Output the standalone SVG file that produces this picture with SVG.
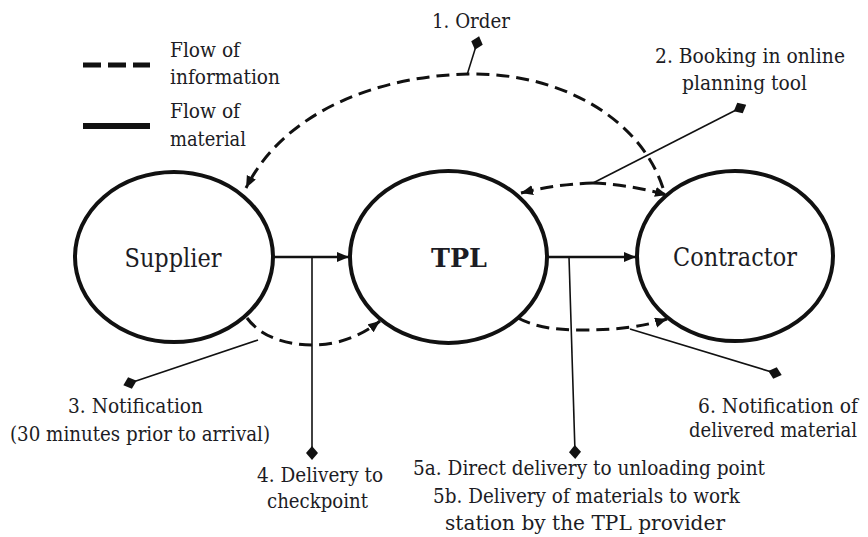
<svg xmlns="http://www.w3.org/2000/svg" width="868" height="537" viewBox="0 0 868 537">
<style>
text{font-family:'DejaVu Serif','Liberation Serif',serif;fill:#1c1c24;font-size:21px}
.node text{font-size:26px}
.node ellipse{fill:#fff;stroke:#111;stroke-width:4}
.solid{stroke:#111;stroke-width:2.6;fill:none}
.dash{stroke:#111;stroke-width:3;fill:none;stroke-dasharray:13 7}
.call{stroke:#111;stroke-width:1.6;fill:none}
</style>
<defs>
<marker id="arr" markerUnits="userSpaceOnUse" markerWidth="14" markerHeight="12" refX="12" refY="5" orient="auto">
<path d="M0,0 L12,5 L0,10 z" fill="#111"/>
</marker>
<marker id="dia" markerUnits="userSpaceOnUse" markerWidth="14" markerHeight="14" refX="7" refY="7" orient="auto">
<path d="M0,7 L7,1 L14,7 L7,13 z" fill="#111"/>
</marker>
</defs>
<g id="legend">
<line x1="83" y1="65" x2="150" y2="65" stroke="#111" stroke-width="5" stroke-dasharray="18 7"/>
<line x1="83" y1="126" x2="150" y2="126" stroke="#111" stroke-width="6"/>
<text x="170" y="57" textLength="70" lengthAdjust="spacingAndGlyphs">Flow of</text>
<text x="170" y="84" textLength="110" lengthAdjust="spacingAndGlyphs">information</text>
<text x="170" y="118" textLength="70" lengthAdjust="spacingAndGlyphs">Flow of</text>
<text x="170" y="146" textLength="76" lengthAdjust="spacingAndGlyphs">material</text>
</g>
<g id="supplier" class="node">
<ellipse cx="174" cy="257" rx="99" ry="85"/>
<text x="124.5" y="267" textLength="97" lengthAdjust="spacingAndGlyphs">Supplier</text>
</g>
<g id="tpl" class="node">
<ellipse cx="448.5" cy="257" rx="98.5" ry="86"/>
<text x="431" y="267" font-weight="bold" textLength="56" lengthAdjust="spacingAndGlyphs">TPL</text>
</g>
<g id="contractor" class="node">
<ellipse cx="735" cy="256" rx="98" ry="85"/>
<text x="673" y="266" textLength="124" lengthAdjust="spacingAndGlyphs">Contractor</text>
</g>
<g id="connectors">
<line class="solid" x1="274" y1="257" x2="349" y2="257" marker-end="url(#arr)"/>
<line class="solid" x1="548" y1="257" x2="636" y2="257" marker-end="url(#arr)"/>
<line class="call" x1="312" y1="257" x2="312" y2="453" marker-end="url(#dia)"/>
<line class="call" x1="569" y1="257" x2="575" y2="452" marker-end="url(#dia)"/>
<path class="dash" d="M663,188 C640,118 560,72 468,74 C380,76 285,110 246,188" marker-end="url(#arr)"/>
<line class="call" x1="467" y1="75" x2="477" y2="43" marker-end="url(#dia)"/>
<path class="dash" d="M593,183 C565,184 545,187 521,193" marker-end="url(#arr)"/>
<path class="dash" d="M593,183 C620,184 645,189 667,195" marker-end="url(#arr)"/>
<line class="call" x1="593" y1="183" x2="740" y2="108" marker-end="url(#dia)"/>
<path class="dash" d="M247,318 C260,336 285,345 312,345 C340,345 362,335 380,321" marker-end="url(#arr)"/>
<line class="call" x1="258" y1="340" x2="130" y2="383" marker-end="url(#dia)"/>
<path class="dash" d="M518,318 C535,327 555,330 580,330 C620,330 645,326 667,319" marker-end="url(#arr)"/>
<line class="call" x1="630" y1="329" x2="775" y2="373" marker-end="url(#dia)"/>
</g>
<g id="labels">
<text x="432" y="28" textLength="78" lengthAdjust="spacingAndGlyphs">1. Order</text>
<text x="655" y="63" textLength="190" lengthAdjust="spacingAndGlyphs">2. Booking in online</text>
<text x="682" y="90" textLength="125" lengthAdjust="spacingAndGlyphs">planning tool</text>
<text x="68" y="413" textLength="135" lengthAdjust="spacingAndGlyphs">3. Notification</text>
<text x="10" y="441" textLength="260" lengthAdjust="spacingAndGlyphs">(30 minutes prior to arrival)</text>
<text x="257" y="482" textLength="126" lengthAdjust="spacingAndGlyphs">4. Delivery to</text>
<text x="267" y="508" textLength="101" lengthAdjust="spacingAndGlyphs">checkpoint</text>
<text x="413" y="475" textLength="352" lengthAdjust="spacingAndGlyphs">5a. Direct delivery to unloading point</text>
<text x="433" y="503" textLength="307" lengthAdjust="spacingAndGlyphs">5b. Delivery of materials to work</text>
<text x="445" y="530" textLength="280" lengthAdjust="spacingAndGlyphs">station by the TPL provider</text>
<text x="858" y="413" text-anchor="end" textLength="160" lengthAdjust="spacingAndGlyphs">6. Notification of</text>
<text x="857" y="437" text-anchor="end" textLength="168" lengthAdjust="spacingAndGlyphs">delivered material</text>
</g>
</svg>
